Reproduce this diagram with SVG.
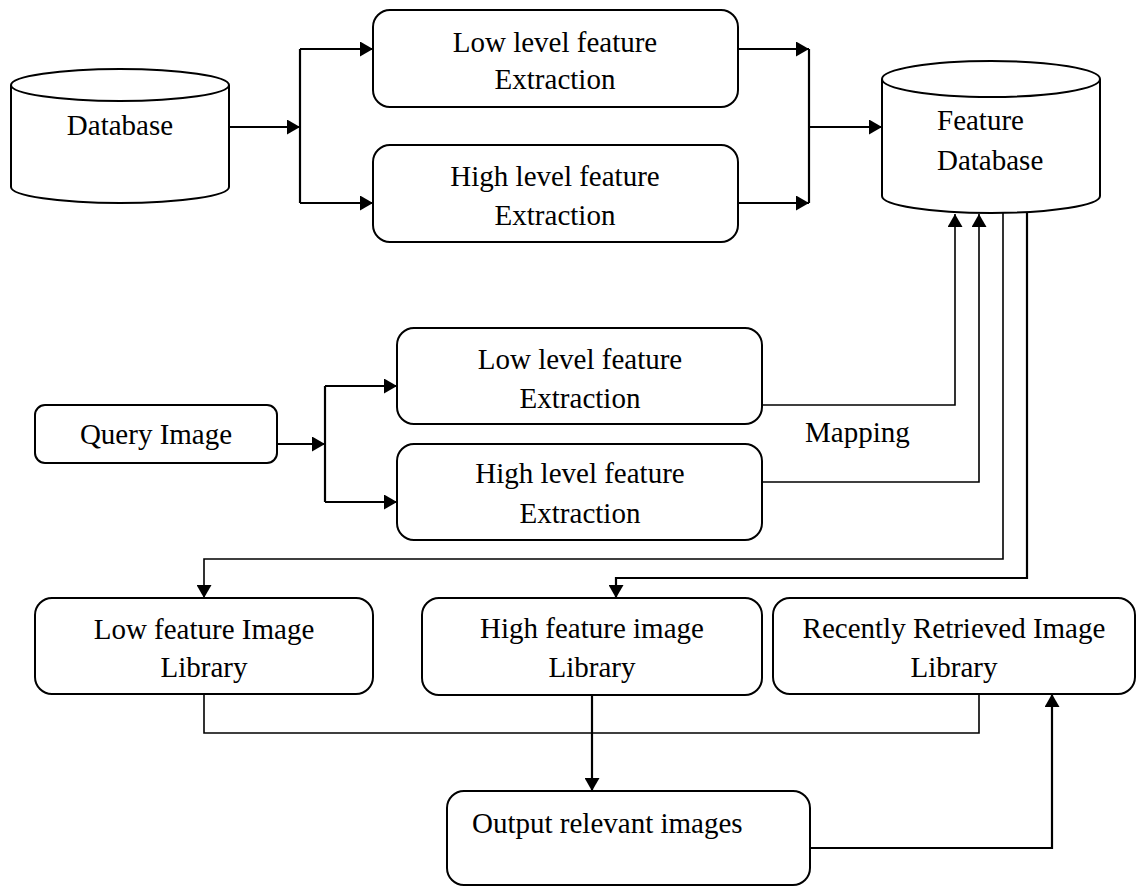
<svg xmlns="http://www.w3.org/2000/svg" width="1136" height="887" viewBox="0 0 1136 887">
<style>
.box{fill:#fff;stroke:#000;stroke-width:2}
.t{font-family:"Liberation Serif","Times New Roman",serif;font-size:29px;fill:#000}
.c{text-anchor:middle}
.w{fill:none;stroke:#000;stroke-width:2.2}
.n{fill:none;stroke:#000;stroke-width:1.6}
</style>
<defs>
<marker id="arr" markerUnits="userSpaceOnUse" markerWidth="14" markerHeight="15" refX="13" refY="7.5" orient="auto">
<path d="M0,0 L13,7.5 L0,15 z" fill="#000"/>
</marker>
</defs>
<rect width="1136" height="887" fill="#fff"/>
<g id="connectors">
<path class="w" d="M229,127 H300" marker-end="url(#arr)"/>
<path class="w" d="M300,49 V203"/>
<path class="w" d="M300,49 H373" marker-end="url(#arr)"/>
<path class="w" d="M300,203 H373" marker-end="url(#arr)"/>
<path class="w" d="M738,49 H809" marker-end="url(#arr)"/>
<path class="w" d="M738,203 H809" marker-end="url(#arr)"/>
<path class="w" d="M809,49 V203"/>
<path class="w" d="M809,127 H882" marker-end="url(#arr)"/>
<path class="w" d="M277,444 H325" marker-end="url(#arr)"/>
<path class="w" d="M325,386 V502"/>
<path class="w" d="M325,386 H397" marker-end="url(#arr)"/>
<path class="w" d="M325,502 H397" marker-end="url(#arr)"/>
<path class="n" d="M762,405 H955 V214" marker-end="url(#arr)"/>
<path class="n" d="M762,482 H979 V214" marker-end="url(#arr)"/>
<path class="n" d="M1003,212 V559 H204 V598" marker-end="url(#arr)"/>
<path class="w" d="M1027,211 V578 H616 V598" marker-end="url(#arr)"/>
<path class="n" d="M204,694 V733 H979 V694"/>
<path class="w" d="M592,695 V791" marker-end="url(#arr)"/>
<path class="w" d="M810,848 H1052 V694" marker-end="url(#arr)"/>
<text class="t" x="805" y="442">Mapping</text>
</g>
<g id="database">
<path class="box" d="M11,85 A109,16 0 0 1 229,85 V187 A109,16 0 0 1 11,187 Z"/>
<path class="box" d="M11,85 A109,16 0 0 0 229,85" fill="none"/>
<text class="t c" x="120" y="135">Database</text>
</g>
<g id="low-extract-top">
<rect class="box" x="373" y="10" width="365" height="97" rx="17"/>
<text class="t c" x="555" y="52">Low level feature</text>
<text class="t c" x="555" y="89">Extraction</text>
</g>
<g id="high-extract-top">
<rect class="box" x="373" y="145" width="365" height="97" rx="17"/>
<text class="t c" x="555" y="186">High level feature</text>
<text class="t c" x="555" y="225">Extraction</text>
</g>
<g id="feature-database">
<path class="box" d="M882,79 A109,18 0 0 1 1100,79 V196 A109,17 0 0 1 882,196 Z"/>
<path class="box" d="M882,79 A109,18 0 0 0 1100,79" fill="none"/>
<text class="t" x="937" y="130">Feature</text>
<text class="t" x="937" y="170">Database</text>
</g>
<g id="query-image">
<rect class="box" x="35" y="405" width="242" height="58" rx="10"/>
<text class="t c" x="156" y="444">Query Image</text>
</g>
<g id="low-extract-mid">
<rect class="box" x="397" y="328" width="365" height="96" rx="17"/>
<text class="t c" x="580" y="369">Low level feature</text>
<text class="t c" x="580" y="408">Extraction</text>
</g>
<g id="high-extract-mid">
<rect class="box" x="397" y="444" width="365" height="96" rx="17"/>
<text class="t c" x="580" y="483">High level feature</text>
<text class="t c" x="580" y="523">Extraction</text>
</g>
<g id="low-library">
<rect class="box" x="35" y="598" width="338" height="96" rx="17"/>
<text class="t c" x="204" y="639">Low feature Image</text>
<text class="t c" x="204" y="677">Library</text>
</g>
<g id="high-library">
<rect class="box" x="422" y="598" width="340" height="97" rx="17"/>
<text class="t c" x="592" y="638">High feature image</text>
<text class="t c" x="592" y="677">Library</text>
</g>
<g id="recent-library">
<rect class="box" x="773" y="598" width="362" height="96" rx="17"/>
<text class="t c" x="954" y="638">Recently Retrieved Image</text>
<text class="t c" x="954" y="677">Library</text>
</g>
<g id="output">
<rect class="box" x="447" y="791" width="363" height="94" rx="17"/>
<text class="t" x="472" y="833">Output relevant images</text>
</g>
</svg>
